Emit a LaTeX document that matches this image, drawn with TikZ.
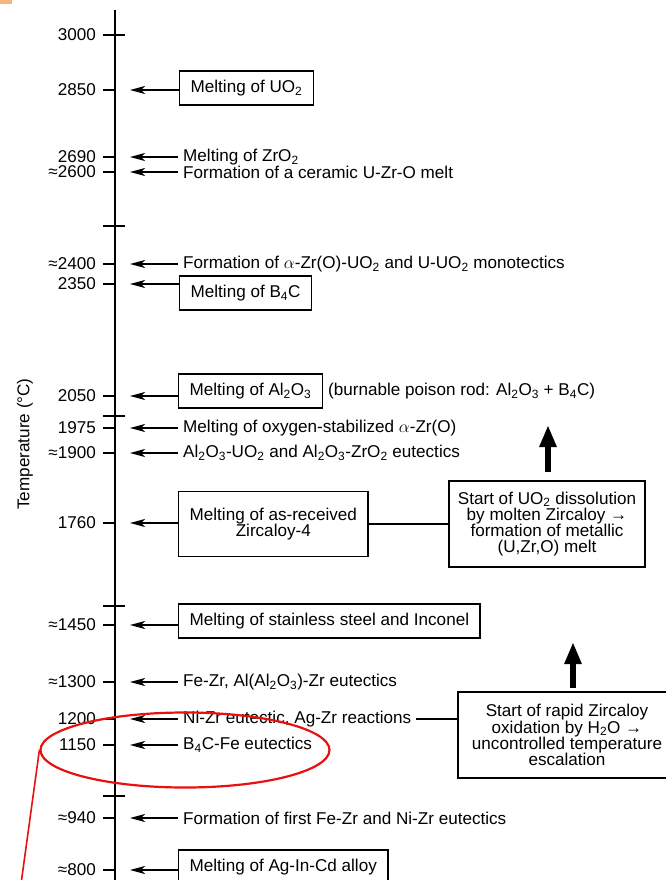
\documentclass[tikz,border=0pt]{standalone}
\usepackage{fontspec}
\setmainfont{Liberation Sans}
\usetikzlibrary{arrows.meta,shapes.geometric}
\definecolor{markred}{RGB}{232,16,16}
\definecolor{scanorange}{RGB}{247,183,122}

\begin{document}
\begin{tikzpicture}[x=1pt,y=-1pt,
  font=\fontsize{17.1}{16.2}\selectfont,
  tlab/.style={anchor=east,inner sep=2pt},
  evt/.style={anchor=west,inner xsep=5pt,inner ysep=1pt},
  evbox/.style={draw,line width=1.3pt,anchor=west,inner xsep=11pt,inner ysep=0pt,minimum height=34pt},
  bigbox/.style={draw,line width=1.5pt,align=center,inner sep=6pt},
  axisline/.style={line width=2pt},
  tick/.style={line width=1.6pt},
  ptr/.style={line width=1.6pt,-{Stealth[length=15pt,width=8pt,inset=4pt]}},
  link/.style={line width=1.5pt},
  uparrow/.style={line width=6pt,-{Triangle[length=22pt,width=16pt]}}]
\path[use as bounding box,clip] (0,0) rectangle (666,880);
\fill[scanorange] (0,0) rectangle (12,4);
% Axis
\draw[axisline] (115,10)--(115,885);
% Crossing ticks
\draw[tick] (103,35)--(125,35);
\draw[tick] (103,226)--(125,226);
\draw[tick] (103,416)--(125,416);
\draw[tick] (103,606)--(125,606);
\draw[tick] (103,796)--(125,796);
% Ticks at the marked temperatures
\draw[tick] (103,90)--(115,90);
\draw[tick] (103,157)--(115,157);
\draw[tick] (103,172)--(115,172);
\draw[tick] (103,264)--(115,264);
\draw[tick] (103,284)--(115,284);
\draw[tick] (103,396)--(115,396);
\draw[tick] (103,428)--(115,428);
\draw[tick] (103,453)--(115,453);
\draw[tick] (103,523)--(115,523);
\draw[tick] (103,625)--(115,625);
\draw[tick] (103,682)--(115,682);
\draw[tick] (103,719)--(115,719);
\draw[tick] (103,745)--(115,745);
\draw[tick] (103,818)--(115,818);
\draw[tick] (103,870)--(115,870);
% Temperature labels
\node[tlab] (t3000) at (98,35) {3000};
\node[tlab] (t2850) at (98,90) {2850};
\node[tlab] (t2690) at (98,157) {2690};
\node[tlab] (t2600) at (98,172) {≈2600};
\node[tlab] (t2400) at (98,264) {≈2400};
\node[tlab] (t2350) at (98,284) {2350};
\node[tlab] (t2050) at (98,396) {2050};
\node[tlab] (t1975) at (98,428) {1975};
\node[tlab] (t1900) at (98,453) {≈1900};
\node[tlab] (t1760) at (98,523) {1760};
\node[tlab] (t1450) at (98,625) {≈1450};
\node[tlab] (t1300) at (98,682) {≈1300};
\node[tlab] (t1200) at (98,719) {1200};
\node[tlab] (t1150) at (98,745) {1150};
\node[tlab] (t940) at (98,818) {≈940};
\node[tlab] (t800) at (98,870) {≈800};
\node[rotate=90] (ylab) at (25,444) {Temperature (°C)};
% Arrow heads on the axis side
\coordinate (a2850) at (130,90);
\coordinate (a2690) at (130,157);
\coordinate (a2600) at (130,172);
\coordinate (a2400) at (130,264);
\coordinate (a2350) at (130,284);
\coordinate (a2050) at (130,396);
\coordinate (a1975) at (130,428);
\coordinate (a1900) at (130,453);
\coordinate (a1760) at (130,523);
\coordinate (a1450) at (130,625);
\coordinate (a1300) at (130,682);
\coordinate (a1200) at (130,719);
\coordinate (a1150) at (130,745);
\coordinate (a940) at (130,818);
\coordinate (a800) at (130,870);
% Events (plain text)
\node[evt] (e2690) at (178,157) {Melting of ZrO\textsubscript{2}};
\node[evt] (e2600) at (178,172) {Formation of a ceramic U-Zr-O melt};
\node[evt] (e2400) at (178,264) {Formation of $\alpha$-Zr(O)-UO\textsubscript{2} and U-UO\textsubscript{2} monotectics};
\node[evt] (e1975) at (178,428) {Melting of oxygen-stabilized $\alpha$-Zr(O)};
\node[evt] (e1900) at (178,453) {Al\textsubscript{2}O\textsubscript{3}-UO\textsubscript{2} and Al\textsubscript{2}O\textsubscript{3}-ZrO\textsubscript{2} eutectics};
\node[evt] (e1300) at (178,682) {Fe-Zr, Al(Al\textsubscript{2}O\textsubscript{3})-Zr eutectics};
\node[evt] (e1200) at (178,719) {Ni-Zr eutectic, Ag-Zr reactions};
\node[evt] (e1150) at (178,745) {B\textsubscript{4}C-Fe eutectics};
\node[evt] (e940) at (178,818) {Formation of first Fe-Zr and Ni-Zr eutectics};
% Events (melting, boxed)
\node[evbox] (b2850) at (179,88) {Melting of UO\textsubscript{2}};
\node[evbox] (b2350) at (179,293) {Melting of B\textsubscript{4}C};
\node[evbox] (b2050) at (178,391) {Melting of Al\textsubscript{2}O\textsubscript{3}};
\node[evt] (rod) at (b2050.east) {(burnable poison rod: Al\textsubscript{2}O\textsubscript{3} + B\textsubscript{4}C)};
\node[evbox,align=center,minimum height=65pt] (b1760) at (178,524) {Melting of as-received\\Zircaloy-4};
\node[evbox] (b1450) at (178,621) {Melting of stainless steel and Inconel};
\node[evbox] (b800) at (178,867) {Melting of Ag-In-Cd alloy};
% Consequences
\node[bigbox,minimum width=196pt,minimum height=86pt] (bigA) at (547,524) {Start of UO\textsubscript{2} dissolution\\by molten Zircaloy →\\formation of metallic\\(U,Zr,O) melt};
\node[bigbox,minimum width=218pt,minimum height=86pt] (bigB) at (567,735) {Start of rapid Zircaloy\\oxidation by H\textsubscript{2}O →\\uncontrolled temperature\\escalation};
% Arrows
\draw[ptr] (b2850.west |- a2850)--(a2850);
\draw[ptr] (e2690.west)--(a2690);
\draw[ptr] (e2600.west)--(a2600);
\draw[ptr] (e2400.west)--(a2400);
\draw[ptr] (b2350.west |- a2350)--(a2350);
\draw[ptr] (b2050.west |- a2050)--(a2050);
\draw[ptr] (e1975.west)--(a1975);
\draw[ptr] (e1900.west)--(a1900);
\draw[ptr] (b1760.west |- a1760)--(a1760);
\draw[ptr] (b1450.west |- a1450)--(a1450);
\draw[ptr] (e1300.west)--(a1300);
\draw[ptr] (e1200.west)--(a1200);
\draw[ptr] (e1150.west)--(a1150);
\draw[ptr] (e940.west)--(a940);
\draw[ptr] (b800.west |- a800)--(a800);
% Links to consequences
\draw[link] (b1760.east)--(b1760.east -| bigA.west);
\draw[link] (e1200.east)--(e1200.east -| bigB.west);
\coordinate (upAfoot) at (548,472);
\coordinate (upAtip) at (548,425);
\coordinate (upBfoot) at (573,688);
\coordinate (upBtip) at (573,642);
\draw[uparrow] (upAfoot)--(upAtip);
\draw[uparrow] (upBfoot)--(upBtip);
% Red marking
\node[draw=markred,line width=2.2pt,ellipse,inner sep=0pt,minimum width=289pt,minimum height=75pt] (mark) at (185,750) {};
\coordinate (marktail) at (21,884);
\draw[markred,line width=1.6pt] (mark.west)--(marktail);
\end{tikzpicture}
\end{document}
